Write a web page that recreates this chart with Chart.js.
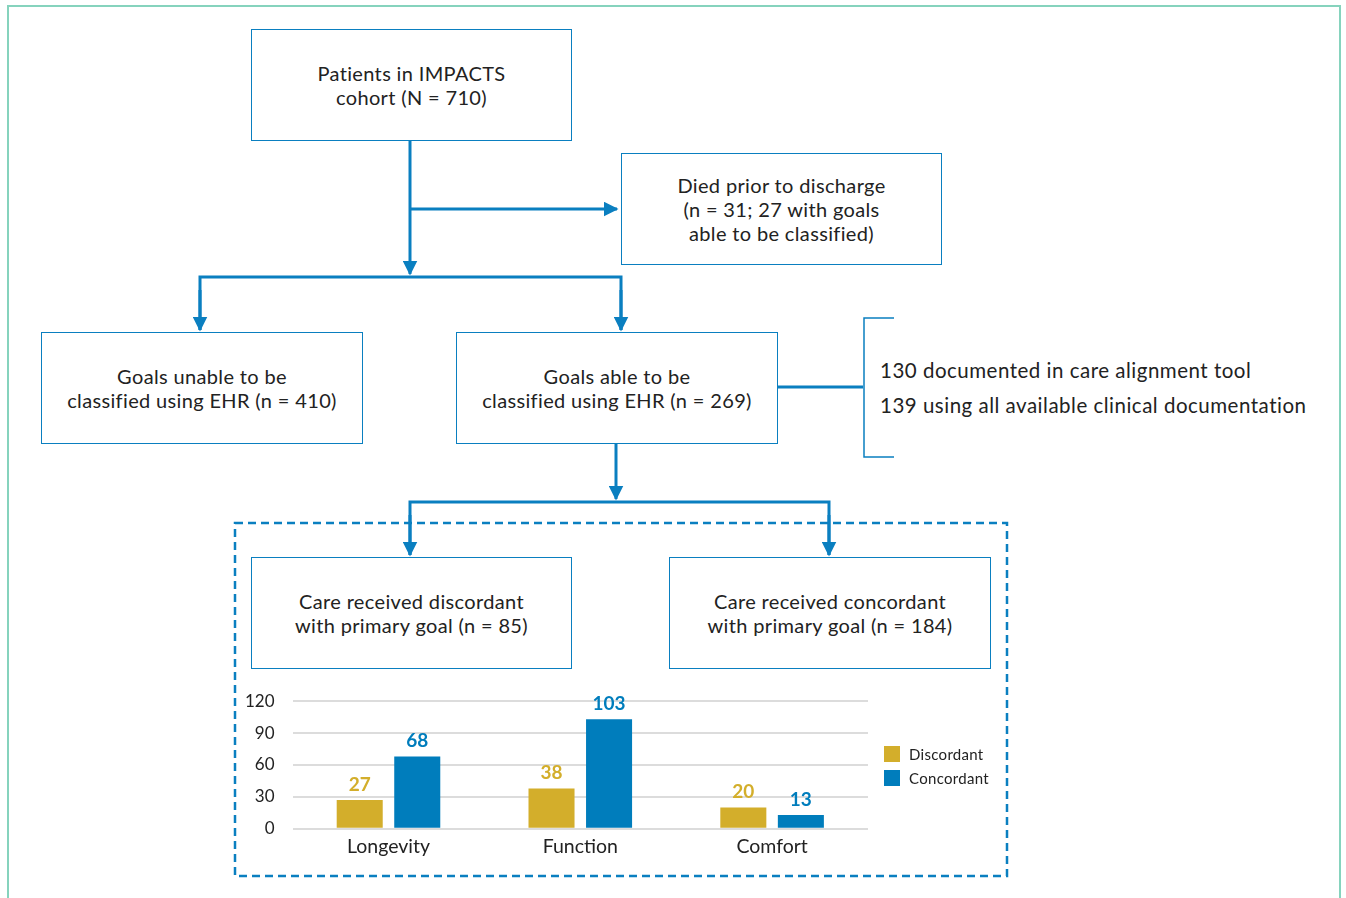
<!DOCTYPE html>
<html>
<head>
<meta charset="utf-8">
<script src="https://cdn.jsdelivr.net/npm/chart.js@4.4.1/dist/chart.umd.min.js"></script>
<style>
  body { margin: 0; background: #fff; font-family: Lato, "Noto Sans", sans-serif; color: #222; }
  #page { position: relative; width: 1346px; height: 898px; overflow: hidden; }
  #frame { position: absolute; left: 7px; top: 5px; width: 1334px; height: 910px; border: 2px solid #86d3bd; box-sizing: border-box; }
  .box { position: absolute; border: 1.5px solid #0a7fc0; box-sizing: border-box; display: flex; align-items: center; justify-content: center; text-align: center; font-size: 20px; letter-spacing: 0.35px; line-height: 24px; background: #fff; }
  .note { position: absolute; font-size: 20.5px; letter-spacing: 0.5px; white-space: nowrap; }
  svg { position: absolute; left: 0; top: 0; }
  #chartWrap { position: absolute; left: 227px; top: 673px; width: 787px; height: 184px; }
  #legend { position: absolute; left: 884px; top: 742px; font-size: 15px; letter-spacing: 0.3px; }
  #legend .item { display: flex; align-items: center; height: 24px; }
  #legend .sw { width: 16px; height: 16px; margin-right: 9px; }
</style>
</head>
<body>
<div id="page">
  <div id="frame"></div>
  <svg width="1346" height="898">
    <defs>
      <marker id="ah" viewBox="0 0 10 10" refX="9" refY="5" markerWidth="5" markerHeight="5" orient="auto">
        <path d="M0,0 L10,5 L0,10 z" fill="#0a7fc0"/>
      </marker>
    </defs>
    <g stroke="#0a7fc0" stroke-width="3" fill="none">
      <line x1="410" y1="140" x2="410" y2="274" marker-end="url(#ah)"/>
      <line x1="410" y1="209" x2="617" y2="209" marker-end="url(#ah)"/>
      <polyline points="200,330 200,277 621,277 621,330"/>
      <line x1="200" y1="290" x2="200" y2="330" marker-end="url(#ah)"/>
      <line x1="621" y1="290" x2="621" y2="330" marker-end="url(#ah)"/>
      <line x1="777" y1="387" x2="863" y2="387"/>
      <line x1="616" y1="443" x2="616" y2="499" marker-end="url(#ah)"/>
      <polyline points="410,555 410,502 829,502 829,555"/>
      <line x1="410" y1="515" x2="410" y2="555" marker-end="url(#ah)"/>
      <line x1="829" y1="515" x2="829" y2="555" marker-end="url(#ah)"/>
    </g>
    <polyline points="894,318 864,318 864,457 894,457" stroke="#0a7fc0" stroke-width="1.5" fill="none"/>
    <rect x="235" y="523" width="772" height="353" stroke="#0a7fc0" stroke-width="2.5" stroke-dasharray="8,5" fill="none"/>
  </svg>
  <div class="box" style="left:251px;top:29px;width:321px;height:112px;">Patients in IMPACTS<br>cohort (N = 710)</div>
  <div class="box" style="left:621px;top:153px;width:321px;height:112px;">Died prior to discharge<br>(n = 31; 27 with goals<br>able to be classified)</div>
  <div class="box" style="left:41px;top:332px;width:322px;height:112px;">Goals unable to be<br>classified using EHR (n = 410)</div>
  <div class="box" style="left:456px;top:332px;width:322px;height:112px;">Goals able to be<br>classified using EHR (n = 269)</div>
  <div class="box" style="left:251px;top:557px;width:321px;height:112px;">Care received discordant<br>with primary goal (n = 85)</div>
  <div class="box" style="left:669px;top:557px;width:322px;height:112px;">Care received concordant<br>with primary goal (n = 184)</div>
  <div class="note" style="left:880px;top:358px;">130 documented in care alignment tool</div>
  <div class="note" style="left:880px;top:393px;">139 using all available clinical documentation</div>
  <div id="chartWrap"><canvas id="goalChart"></canvas></div>
  <div id="legend"></div>
</div>
<script>
// Goal categories and counts
const categories = ['Longevity', 'Function', 'Comfort'];
const discordant = [27, 38, 20];
const concordant = [68, 103, 13];
const yTicks = [0, 30, 60, 90, 120];

const yellow = '#d3ae2b';
const blue = '#007dbc';
const fontFam = 'Lato, "Noto Sans", sans-serif';

// draw value labels above bars
const valueLabels = {
    id: 'valueLabels',
    afterDatasetsDraw(chart) {
        const ctx = chart.ctx;
        ctx.save();
        ctx.font = 'bold 19px ' + fontFam;
        ctx.textAlign = 'center';
        ctx.textBaseline = 'bottom';
        chart.data.datasets.forEach((ds, i) => {
            chart.getDatasetMeta(i).data.forEach((bar, j) => {
                ctx.fillStyle = ds.backgroundColor;
                ctx.fillText(ds.data[j], bar.x, bar.y - 6);
            });
        });
        ctx.restore();
    }
};

const chart = new Chart(document.getElementById('goalChart'), {
    type: 'bar',
    data: {
        labels: categories,
        datasets: [
            { label: 'Discordant', data: discordant, backgroundColor: yellow },
            { label: 'Concordant', data: concordant, backgroundColor: blue }
        ]
    },
    options: {
        responsive: true,
        maintainAspectRatio: false,
        animation: false,
        categoryPercentage: 0.6,
        barPercentage: 0.8,
        layout: { padding: { top: 14, right: 146, left: 0, bottom: 0 } },
        plugins: {
            legend: { display: false },
            tooltip: { enabled: false }
        },
        scales: {
            x: {
                grid: { display: false },
                border: { display: false },
                ticks: { color: '#222', padding: -2, font: { family: fontFam, size: 19.5 } }
            },
            y: {
                min: 0, max: 120,
                afterBuildTicks: axis => { axis.ticks = yTicks.map(v => ({ value: v })); },
                grid: { color: '#dcdcdc', lineWidth: 2, drawTicks: false },
                border: { display: false },
                ticks: { color: '#222', padding: 18, font: { family: fontFam, size: 17 } }
            }
        }
    },
    plugins: [valueLabels]
});

// legend built from the chart's datasets
const legend = document.getElementById('legend');
chart.data.datasets.forEach(ds => {
    let item = document.createElement('div');
    item.className = 'item';
    item.innerHTML = `<span class="sw" style="background:${ds.backgroundColor}"></span>${ds.label}`;
    legend.appendChild(item);
});
</script>
</body>
</html>
